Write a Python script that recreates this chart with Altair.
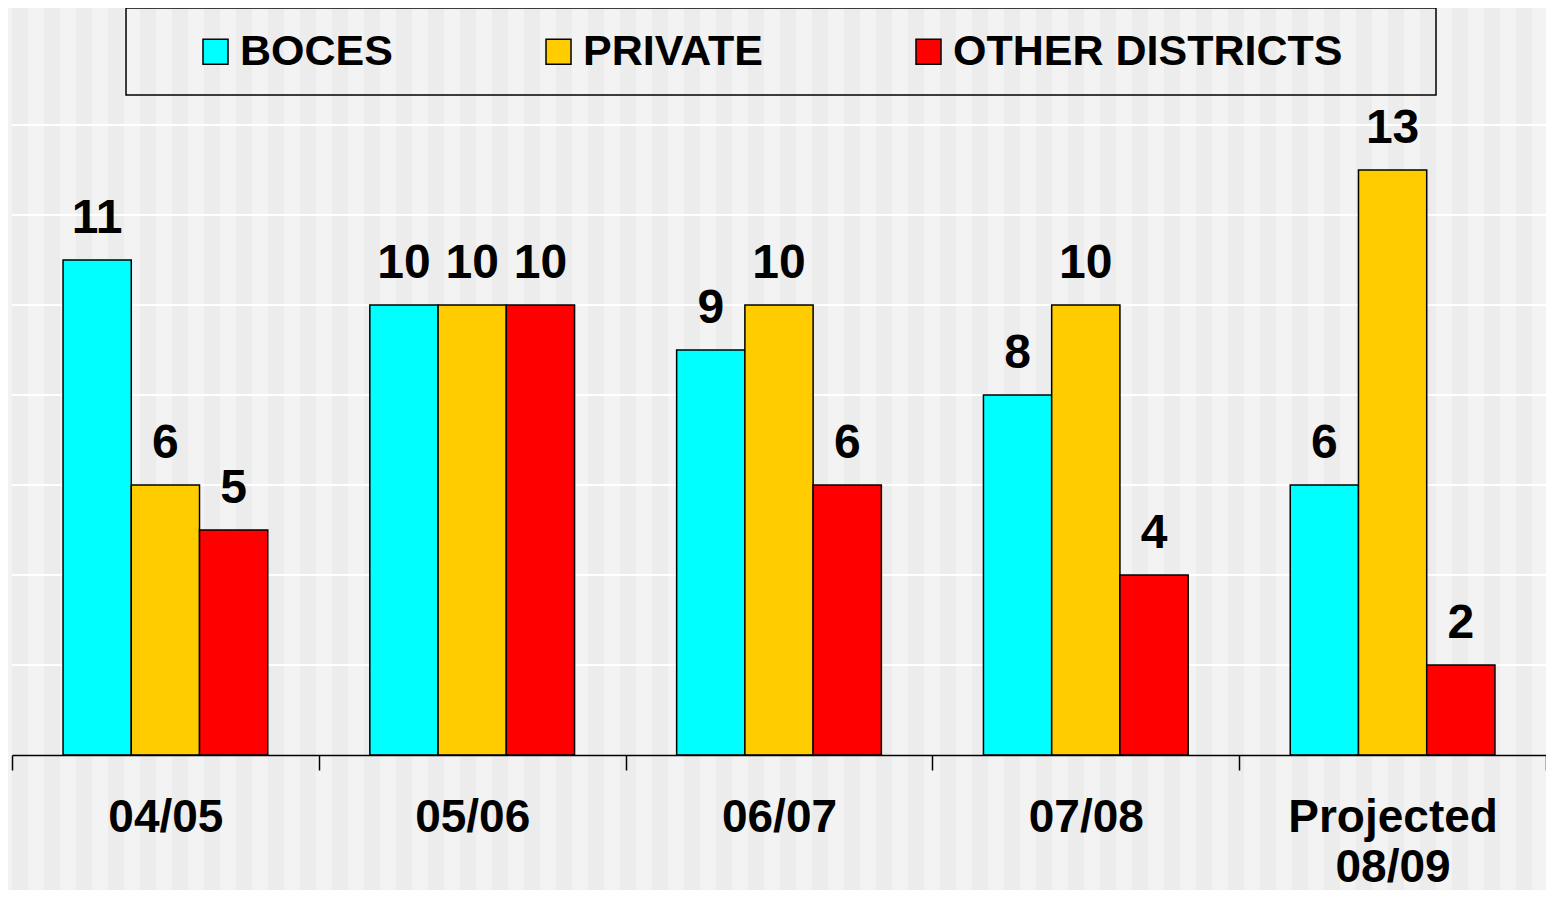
import altair as alt
import pandas as pd

years = ["04/05", "05/06", "06/07", "07/08", "Projected 08/09"]
series = ["BOCES", "PRIVATE", "OTHER DISTRICTS"]
boces = [11, 10, 9, 8, 6]
private = [6, 10, 10, 10, 13]
other = [5, 10, 6, 4, 2]
grid_values = [2, 4, 6, 8, 10, 12, 14]
colors = ["#00FFFF", "#FFCC00", "#FF0000"]

rows = []
for i, y in enumerate(years):
    for s, vals in zip(series, [boces, private, other]):
        rows.append({"year": y, "series": s, "value": vals[i]})
df = pd.DataFrame(rows)

W, H = 1534, 630
FONT = "Liberation Sans"

# decorative striped background (styling only)
light, dark = "#f3f3f3", "#ececec"
bg_w = 1542
stops = []
x = 0
while x < bg_w:
    s, e = x / bg_w, min(x + 16, bg_w) / bg_w
    stops += [
        alt.GradientStop(offset=s, color=light),
        alt.GradientStop(offset=s, color=dark),
        alt.GradientStop(offset=e, color=dark),
        alt.GradientStop(offset=e, color=light),
    ]
    x += 32

stripes = alt.Chart(pd.DataFrame({"k": [0]})).mark_rect(
    fill=alt.LinearGradient(gradient="linear", stops=stops, x1=0, x2=1, y1=0, y2=0)
).encode(
    x=alt.value(0), x2=alt.value(bg_w), y=alt.value(-117), y2=alt.value(773)
)

grid = alt.Chart(pd.DataFrame({"g": grid_values})).mark_rule(
    color="white", strokeWidth=2
).encode(
    y=alt.Y("g:Q", scale=alt.Scale(domain=[0, 14]), axis=None)
)

xenc = alt.X(
    "year:N",
    sort=years,
    scale=alt.Scale(paddingInner=0, paddingOuter=0),
    axis=alt.Axis(
        title=None,
        labelAngle=0,
        labelFont=FONT,
        labelFontSize=46,
        labelFontWeight="bold",
        labelColor="black",
        labelPadding=25,
        labelBaseline="top",
        labelLineHeight=50,
        labelExpr="split(datum.label, ' ')",
        tickBand="extent",
        tickSize=15,
        tickColor="black",
        tickWidth=1.5,
        domainColor="black",
        domainWidth=1.5,
        grid=False,
        zindex=1,
        labelLimit=400,
    ),
)
xoff = alt.XOffset("series:N", sort=series,
                   scale=alt.Scale(paddingInner=0, paddingOuter=0.748))
yenc = alt.Y("value:Q", scale=alt.Scale(domain=[0, 14]), axis=None)

bars = alt.Chart(df).mark_bar(stroke="black", strokeWidth=1.5).encode(
    x=xenc,
    xOffset=xoff,
    y=yenc,
    color=alt.Color(
        "series:N",
        sort=series,
        scale=alt.Scale(domain=series, range=colors),
        legend=alt.Legend(
            title=None,
            orient="none",
            direction="horizontal",
            legendX=182,
            legendY=-95,
            columnPadding=144,
            labelFont=FONT,
            labelFontSize=43,
            labelFontWeight="bold",
            labelColor="black",
            labelLimit=600,
            labelOffset=3,
            symbolType="square",
            symbolSize=625,
            symbolStrokeColor="black",
            symbolStrokeWidth=1.5,
            symbolOpacity=1,
            padding=0,
        ),
    ),
)

labels = alt.Chart(df).mark_text(
    font=FONT, fontSize=48, fontWeight="bold", color="black",
    baseline="alphabetic", dy=-27
).encode(
    x=alt.X("year:N", sort=years),
    xOffset=alt.XOffset("series:N", sort=series),
    y=alt.Y("value:Q"),
    text=alt.Text("value:Q"),
)

legend_box = alt.Chart(pd.DataFrame({"k": [0]})).mark_rect(
    fill=None, stroke="black", strokeWidth=1.5
).encode(
    x=alt.value(114), x2=alt.value(1424), y=alt.value(-117), y2=alt.value(-30)
)

chart = alt.layer(stripes, grid, bars, labels, legend_box).properties(
    width=W,
    height=H,
    autosize=alt.AutoSizeParams(type="none"),
    padding={"left": 4, "top": 117, "right": 0, "bottom": 135},
    background="#f3f3f3",
).configure_view(stroke=None).configure(font=FONT)

chart.save("out.html", embed_options={"renderer": "svg", "actions": False})
